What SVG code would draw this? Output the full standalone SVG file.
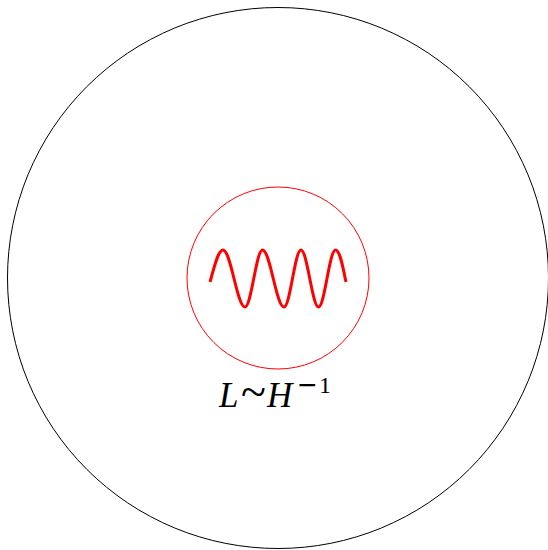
<svg xmlns="http://www.w3.org/2000/svg" width="548" height="550" viewBox="0 0 548 550">
<style>
.outer{fill:none;stroke:#000;stroke-width:1}
.inner{fill:none;stroke:#ff0000;stroke-width:1}
.wave{fill:none;stroke:#ff0000;stroke-width:3;stroke-linecap:butt;stroke-linejoin:round}
.math{font-family:"Liberation Serif","DejaVu Serif",serif;fill:#000}
.it{font-style:italic}
.sym{font-family:"DejaVu Sans",sans-serif}
</style>
<rect width="548" height="550" fill="#fff"/>
<g id="outer-circle"><circle class="outer" cx="278" cy="278" r="270.5"/></g>
<g id="inner-circle"><circle class="inner" cx="278" cy="278" r="91"/></g>
<g id="wave"><path class="wave" d="M210,282 C214,268 218,250 223,250 C231,250 237,307 245,307 C251.3,307 256.2,250 262.5,250 C270.3,250 276.2,307 284,307 C290.2,307 294.8,250 301,250 C307.3,250 312.2,307 318.5,307 C324.7,307 329.3,250 335.5,250 C340,250 343,268 346,282"/></g>
<g id="label"><text class="math" y="407" font-size="35"><tspan class="it" x="219">L</tspan><tspan x="241" font-size="46">~</tspan><tspan class="it" x="267">H</tspan><tspan class="sym" x="297" y="393" font-size="25">−</tspan><tspan x="319" y="393" font-size="24">1</tspan></text></g>
</svg>
